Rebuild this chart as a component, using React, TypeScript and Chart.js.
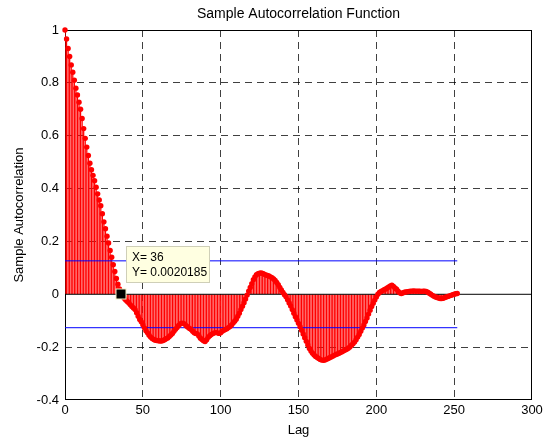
import React, { useEffect, useRef } from "react";
import { Chart, registerables } from "chart.js";

Chart.register(...registerables);

// Sample autocorrelation values for lags 0..252
const acf: number[] = [
  1.0, 0.966, 0.93, 0.9, 0.868, 0.84, 0.81, 0.78, 0.754, 0.727,
  0.7, 0.665, 0.627, 0.59, 0.557, 0.525, 0.496, 0.471, 0.45, 0.43,
  0.405, 0.38, 0.357, 0.335, 0.305, 0.274, 0.248, 0.22, 0.194, 0.166,
  0.14, 0.112, 0.086, 0.06, 0.038, 0.02, 0.0020185, -0.008, -0.015, -0.022,
  -0.027, -0.033, -0.04, -0.046, -0.052, -0.058, -0.07, -0.083, -0.095, -0.104,
  -0.115, -0.127, -0.138, -0.146, -0.155, -0.162, -0.167, -0.171, -0.174, -0.175,
  -0.176, -0.177, -0.177, -0.175, -0.172, -0.168, -0.165, -0.16, -0.154, -0.148,
  -0.14, -0.132, -0.126, -0.118, -0.112, -0.109, -0.11, -0.113, -0.12, -0.125,
  -0.129, -0.133, -0.14, -0.146, -0.148, -0.15, -0.158, -0.166, -0.171, -0.176,
  -0.179, -0.172, -0.163, -0.157, -0.152, -0.148, -0.146, -0.145, -0.146, -0.148,
  -0.146, -0.14, -0.136, -0.133, -0.13, -0.126, -0.122, -0.116, -0.109, -0.102,
  -0.094, -0.083, -0.072, -0.058, -0.045, -0.032, -0.018, -0.003, 0.012, 0.026,
  0.04, 0.055, 0.066, 0.074, 0.078, 0.08, 0.081, 0.079, 0.076, 0.073,
  0.071, 0.069, 0.066, 0.063, 0.058, 0.052, 0.045, 0.036, 0.026, 0.016,
  0.007, -0.002, -0.009, -0.021, -0.033, -0.044, -0.058, -0.072, -0.085, -0.097,
  -0.11, -0.123, -0.136, -0.15, -0.164, -0.178, -0.192, -0.205, -0.215, -0.223,
  -0.23, -0.235, -0.239, -0.243, -0.247, -0.249, -0.25, -0.249, -0.246, -0.243,
  -0.24, -0.237, -0.234, -0.231, -0.228, -0.226, -0.223, -0.22, -0.217, -0.214,
  -0.211, -0.208, -0.204, -0.199, -0.193, -0.187, -0.181, -0.172, -0.162, -0.152,
  -0.14, -0.128, -0.116, -0.103, -0.09, -0.075, -0.06, -0.046, -0.034, -0.022,
  -0.01, 0.0, 0.007, 0.011, 0.014, 0.017, 0.02, 0.024, 0.028, 0.032,
  0.034, 0.03, 0.024, 0.019, 0.012, 0.006, 0.003, 0.005, 0.008, 0.009,
  0.01, 0.011, 0.012, 0.012, 0.013, 0.012, 0.012, 0.012, 0.012, 0.011,
  0.012, 0.012, 0.011, 0.008, 0.004, 0.0, -0.004, -0.007, -0.01, -0.012,
  -0.014, -0.016, -0.016, -0.015, -0.012, -0.01, -0.008, -0.006, -0.004, -0.002,
  0.0, 0.002, 0.003,
];

const xTicks: number[] = [0, 50, 100, 150, 200, 250, 300];
const yTicks: number[] = [-0.4, -0.2, 0, 0.2, 0.4, 0.6, 0.8, 1];
const confUpper = 0.1265;
const confLower = -0.1265;
const boundStart = 0;
const boundEnd = 252;
const tipLag = 36;
const tipLines: string[] = ["X= 36", "Y= 0.0020185"];
const chartTitle = "Sample Autocorrelation Function";
const xTitle = "Lag";
const yTitle = "Sample Autocorrelation";

const FONT = "'Liberation Sans', Arial, Helvetica, sans-serif";

const fmt = (v: number) => String(Number(v.toFixed(1)));

const boxPlugin = {
  id: "matlabBox",
  beforeDatasetsDraw(chart: any) {
    const { ctx, chartArea } = chart;
    ctx.save();
    ctx.strokeStyle = "#000";
    ctx.lineWidth = 1;
    ctx.strokeRect(
      Math.round(chartArea.left) + 0.5,
      Math.round(chartArea.top) + 0.5,
      Math.round(chartArea.right - chartArea.left) - 1,
      Math.round(chartArea.bottom - chartArea.top) - 1
    );
    ctx.restore();
  },
};

const tipPlugin = {
  id: "dataTip",
  afterDatasetsDraw(chart: any) {
    const { ctx } = chart;
    const xs = chart.scales.x;
    const ys = chart.scales.y;
    const px = xs.getPixelForValue(tipLag);
    const py = ys.getPixelForValue(acf[tipLag]);
    ctx.save();
    const bx = Math.round(px + 5);
    const by = Math.round(py - 47.5);
    const bw = 84;
    const bh = 37;
    ctx.fillStyle = "#ffffe1";
    ctx.fillRect(bx, by, bw, bh);
    ctx.strokeStyle = "#cfcfb8";
    ctx.lineWidth = 1;
    ctx.strokeRect(bx + 0.5, by + 0.5, bw - 1, bh - 1);
    ctx.fillStyle = "#000";
    ctx.font = `12px ${FONT}`;
    ctx.textBaseline = "middle";
    ctx.textAlign = "left";
    ctx.fillText(tipLines[0], bx + 6, by + 12);
    ctx.fillText(tipLines[1], bx + 6, by + 27);
    // marker
    ctx.fillStyle = "#f4f0c8";
    ctx.fillRect(Math.round(px) - 5.5, Math.round(py) - 5.5, 11, 11);
    ctx.fillStyle = "#000";
    ctx.fillRect(Math.round(px) - 4.5, Math.round(py) - 4.5, 9, 9);
    ctx.restore();
  },
};

export default function App() {
  const canvasRef = useRef<HTMLCanvasElement | null>(null);

  useEffect(() => {
    if (!canvasRef.current) return;
    const points = acf.map((v, i) => ({ x: i, y: v }));
    const chart = new Chart(canvasRef.current, {
      type: "bar",
      data: {
        datasets: [
          {
            type: "line",
            label: "acf points",
            data: points,
            showLine: false,
            clip: false,
            pointRadius: 2.7,
            pointBorderWidth: 0,
            pointBackgroundColor: "rgb(255,0,0)",
            pointBorderColor: "rgb(255,0,0)",
            order: 0,
          } as any,
          {
            type: "line",
            label: "upper bound",
            data: [
              { x: boundStart, y: confUpper },
              { x: boundEnd, y: confUpper },
            ],
            borderColor: "rgb(0,0,255)",
            borderWidth: 1,
            pointRadius: 0,
            order: 1,
          } as any,
          {
            type: "line",
            label: "lower bound",
            data: [
              { x: boundStart, y: confLower },
              { x: boundEnd, y: confLower },
            ],
            borderColor: "rgb(0,0,255)",
            borderWidth: 1,
            pointRadius: 0,
            order: 1,
          } as any,
          {
            type: "line",
            label: "zero",
            data: [
              { x: xTicks[0], y: 0 },
              { x: xTicks[xTicks.length - 1], y: 0 },
            ],
            borderColor: "#000",
            borderWidth: 1,
            pointRadius: 0,
            order: 2,
          } as any,
          {
            type: "bar",
            label: "stems",
            data: points,
            backgroundColor: "rgb(255,0,0)",
            borderWidth: 0,
            barThickness: 0.6,
            order: 3,
          } as any,
        ],
      },
      options: {
        animation: false,
        responsive: true,
        maintainAspectRatio: false,
        events: [],
        layout: { padding: { left: 0, right: 22, top: 0, bottom: 0 } },
        plugins: {
          legend: { display: false },
          tooltip: { enabled: false },
          title: {
            display: true,
            fullSize: false,
            text: chartTitle,
            color: "#000",
            font: { family: FONT, size: 14, weight: "normal" as any },
            padding: { top: 5.6, bottom: 7.6 },
          },
        },
        scales: {
          x: {
            type: "linear",
            min: xTicks[0],
            max: xTicks[xTicks.length - 1],
            offset: false,
            afterBuildTicks: (scale: any) => {
              scale.ticks = xTicks.map((v) => ({ value: v }));
            },
            afterFit: (scale: any) => {
              scale.height = 44;
            },
            ticks: {
              color: "#000",
              font: { family: FONT, size: 13 },
              padding: 3,
              maxRotation: 0,
              autoSkip: false,
              callback: (v: any) => String(v),
            },
            grid: {
              offset: false,
              drawTicks: false,
              color: (c: any) =>
                c.tick && (c.tick.value === xTicks[0] || c.tick.value === xTicks[xTicks.length - 1])
                  ? "rgba(0,0,0,0)"
                  : "rgba(0,0,0,0.75)",
              lineWidth: 1,
            },
            border: { display: false, dash: [7, 5] },
            title: {
              display: true,
              text: xTitle,
              color: "#000",
              font: { family: FONT, size: 13 },
              padding: { top: 0, bottom: 6 },
            },
          },
          y: {
            type: "linear",
            min: yTicks[0],
            max: yTicks[yTicks.length - 1],
            afterBuildTicks: (scale: any) => {
              scale.ticks = yTicks.map((v) => ({ value: v }));
            },
            afterFit: (scale: any) => {
              scale.width = 65;
            },
            ticks: {
              color: "#000",
              font: { family: FONT, size: 13 },
              padding: 6,
              autoSkip: false,
              callback: (v: any) => fmt(Number(v)),
            },
            grid: {
              drawTicks: false,
              color: (c: any) => {
                const v = c.tick ? c.tick.value : NaN;
                if (
                  Math.abs(v - yTicks[0]) < 1e-9 ||
                  Math.abs(v) < 1e-9 ||
                  Math.abs(v - yTicks[yTicks.length - 1]) < 1e-9
                )
                  return "rgba(0,0,0,0)";
                return "rgba(0,0,0,0.75)";
              },
              lineWidth: 1,
            },
            border: { display: false, dash: [7, 5] },
            title: {
              display: true,
              text: yTitle,
              color: "#000",
              font: { family: FONT, size: 13 },
              padding: { top: 12, bottom: 0 },
            },
          },
        },
      },
      plugins: [boxPlugin, tipPlugin],
    } as any);
    return () => chart.destroy();
  }, []);

  return (
    <div
      style={{
        position: "fixed",
        left: 0,
        top: 0,
        width: 554,
        height: 444,
        background: "#fff",
      }}
    >
      <canvas ref={canvasRef} />
    </div>
  );
}
